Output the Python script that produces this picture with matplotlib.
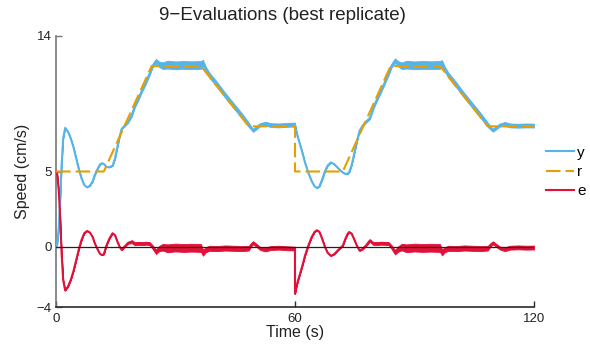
import matplotlib
matplotlib.use("Agg")
import matplotlib.pyplot as plt
import numpy as np
from matplotlib.lines import Line2D

plt.rcParams["font.family"] = ["Liberation Sans", "DejaVu Sans"]

# Reference speed profile (corner points, cm/s)
r_time = [0, 12, 24, 36.4, 48.4, 60, 60, 72, 84, 96.4, 108.4, 120]
r_speed = [5, 5, 12, 12, 8, 8, 5, 5, 12, 12, 8, 8]

# Sample times (s) for measured speed and tracking error
t = [0.0, 0.3, 0.7, 1.0, 1.4, 1.8, 2.3, 3.0, 3.7, 4.4, 5.05, 5.7, 6.4, 7.1, 7.8,
     8.5, 9.2, 9.7, 10.5, 11.0, 11.5, 12.0, 12.7, 13.4, 14.2, 14.8, 15.4, 16.0,
     16.5, 17.3, 18.1, 19.0, 19.8, 20.7, 21.7, 22.7, 23.5, 24.2, 25.1, 25.9,
     26.8, 28.0, 30.0, 32.0, 34.0, 36.4, 36.9, 37.6, 38.5, 40.5, 42.5, 44.5,
     46.5, 48.4, 49.0, 49.5, 50.3, 51.2, 52.5, 54.0, 56.0, 58.0, 60.0, 60.0,
     60.4, 60.8, 61.7, 62.5, 63.4, 64.2, 64.9, 65.5, 66.1, 66.8, 67.5, 68.2,
     69.0, 69.8, 70.9, 72.0, 72.6, 73.2, 73.6, 74.2, 74.8, 75.5, 76.2, 77.0,
     77.8, 78.8, 79.6, 80.5, 81.5, 82.5, 83.5, 84.2, 85.1, 85.9, 86.8, 88.0,
     90.0, 92.0, 94.0, 96.4, 96.9, 97.6, 98.5, 100.5, 102.5, 104.5, 106.5,
     108.4, 109.2, 109.7, 110.5, 111.4, 112.7, 114.0, 116.0, 118.0, 120.0]

# Measured speed y (cm/s)
y_speed = [0.0, 0.2, 1.3, 2.8, 5.4, 7.2, 7.9, 7.65, 7.2, 6.6, 5.9, 5.2, 4.55, 4.1, 3.95,
           4.05, 4.35, 4.75, 5.2, 5.45, 5.55, 5.5, 5.3, 5.28, 5.38, 5.85, 6.63, 7.35,
           7.84, 8.05, 8.3, 8.74, 9.35, 9.85, 10.45, 11.0, 11.5, 12.0, 12.33, 12.12,
           12.03, 12.1, 12.05, 12.08, 12.06, 12.08, 12.22, 11.8, 11.4, 10.75, 10.05, 9.4,
           8.75, 8.1, 7.88, 7.73, 7.9, 8.1, 8.18, 8.08, 8.06, 8.1, 8.12, 8.12,
           7.6, 7.2, 6.4, 5.6, 4.88, 4.35, 4.02, 3.9, 4.0, 4.45, 5.0, 5.4,
           5.6, 5.5, 5.2, 4.93, 4.85, 4.85, 4.95, 5.4, 6.1, 6.95, 7.7, 8.05,
           8.3, 8.55, 9.2, 9.75, 10.3, 10.9, 11.5, 12.0, 12.36, 12.15, 12.02, 12.1,
           12.05, 12.08, 12.06, 12.08, 12.2, 11.8, 11.4, 10.75, 10.05, 9.4, 8.75,
           8.1, 7.85, 7.74, 7.9, 8.08, 8.16, 8.06, 8.04, 8.06, 8.05]

# Tracking error e (cm/s)
e_speed = [5.0, 4.8, 3.7, 2.2, -0.4, -2.2, -2.9, -2.65, -2.2, -1.6, -0.9, -0.2, 0.45, 0.9, 1.05,
           0.95, 0.65, 0.25, -0.2, -0.45, -0.55, -0.5, 0.11, 0.54, 0.9, 0.78, 0.35, -0.02,
           -0.21, 0.04, 0.26, 0.34, 0.2, 0.23, 0.21, 0.24, 0.21, 0.0, -0.33, -0.12,
           -0.03, -0.1, -0.05, -0.08, -0.06, -0.08, -0.39, -0.2, -0.1, -0.12, -0.08, -0.1,
           -0.12, -0.1, 0.12, 0.27, 0.1, -0.1, -0.18, -0.08, -0.06, -0.1, -0.12, -3.12,
           -2.6, -2.2, -1.4, -0.6, 0.12, 0.65, 0.98, 1.1, 1.0, 0.55, 0.0, -0.4,
           -0.6, -0.5, -0.2, 0.07, 0.5, 0.85, 0.98, 0.88, 0.53, 0.09, -0.25, -0.13,
           0.08, 0.42, 0.23, 0.21, 0.24, 0.23, 0.21, 0.0, -0.36, -0.15, -0.02, -0.1,
           -0.05, -0.08, -0.06, -0.08, -0.37, -0.2, -0.1, -0.12, -0.08, -0.1, -0.12,
           -0.1, 0.15, 0.26, 0.1, -0.08, -0.16, -0.06, -0.04, -0.06, -0.05]

# Half-width of the high-frequency ripple band (cm/s)
ripple = [0, 0, 0, 0, 0, 0, 0, 0, 0, 0, 0, 0, 0, 0, 0,
          0, 0, 0, 0, 0, 0, 0, 0, 0, 0, 0, 0, 0,
          0, 0.03, 0.06, 0.1, 0.1, 0.1, 0.1, 0.1, 0.1, 0.12, 0.15, 0.18,
          0.22, 0.26, 0.26, 0.26, 0.26, 0.26, 0.2, 0.17, 0.17, 0.17, 0.17, 0.17,
          0.17, 0.15, 0.1, 0.1, 0.1, 0.1, 0.13, 0.13, 0.13, 0.13, 0.13, 0.0,
          0, 0, 0, 0, 0, 0, 0, 0, 0, 0, 0, 0,
          0, 0, 0, 0, 0, 0, 0, 0, 0, 0, 0.03, 0.05,
          0.06, 0.08, 0.1, 0.1, 0.1, 0.1, 0.1, 0.12, 0.15, 0.18, 0.22, 0.26,
          0.26, 0.26, 0.26, 0.26, 0.2, 0.17, 0.17, 0.17, 0.17, 0.17, 0.17,
          0.15, 0.1, 0.1, 0.1, 0.1, 0.13, 0.13, 0.13, 0.13, 0.13]

x_ticks = [0, 60, 120]
y_ticks = [-4, 0, 5, 14]

c_y = "#56B4E9"
c_r = "#E69F00"
c_e = "#E3103A"

t = np.array(t)
ys = np.array(y_speed)
es = np.array(e_speed)
rp = np.array(ripple)

fig = plt.figure(figsize=(5.9, 3.45), dpi=100)
ax = fig.add_axes([56 / 590, 1 - 307 / 345, (534 - 56) / 590, (307 - 36) / 345])

ax.fill_between(t, ys - rp, ys + rp, color=c_y, lw=0.6, edgecolor=c_y, zorder=2)
ax.plot(t, ys, color=c_y, lw=1.5, zorder=3, solid_joinstyle="round")
ax.plot(r_time, r_speed, color=c_r, lw=1.5, dashes=(7, 2.4), zorder=4)
ax.fill_between(t, es - rp, es + rp, color=c_e, lw=0.6, edgecolor=c_e, zorder=2)
ax.plot(t, es, color=c_e, lw=1.5, zorder=3, solid_joinstyle="round")
ax.axhline(0, color="#222222", lw=0.9, zorder=5)

ax.set_xlim(0, 120)
ax.set_ylim(-4, 14)
ax.set_xticks(x_ticks)
ax.set_yticks(y_ticks)
ax.set_xticklabels([str(v) for v in x_ticks])
ax.set_yticklabels([str(v).replace("-", "\u2212") for v in y_ticks])

for side in ("top", "right"):
    ax.spines[side].set_visible(False)
ax.spines["left"].set_color("#777777")
ax.spines["bottom"].set_color("#2a2a2a")
ax.spines["left"].set_linewidth(1.2)
ax.spines["bottom"].set_linewidth(1.2)
ax.tick_params(axis="y", direction="in", length=4, width=1, color="#777777",
               labelsize=9.5, pad=3, labelcolor="#222222")
ax.tick_params(axis="x", direction="in", length=4, width=1, color="#2a2a2a",
               labelsize=9.5, pad=4, labelcolor="#222222")

ax.set_xlabel("Time (s)", fontsize=11.5, labelpad=0, color="#222222")
ax.set_ylabel("Speed (cm/s)", fontsize=11.5, labelpad=5, color="#222222")
fig.text(282 / 590, 1 - 15 / 345, "9\u2212Evaluations (best replicate)",
         ha="center", va="center", fontsize=13.5, color="#222222")

handles = [Line2D([], [], color=c_y, lw=1.5),
           Line2D([], [], color=c_r, lw=1.5, dashes=(7, 2.4)),
           Line2D([], [], color=c_e, lw=1.5)]
fig.legend(handles, ["y", "r", "e"], loc="center left",
           bbox_to_anchor=(546 / 590, 1 - 172 / 345), frameon=False,
           fontsize=11, handlelength=1.8, handletextpad=0.25,
           labelspacing=0.35, borderpad=0, borderaxespad=0)

fig.savefig("out.png", dpi=100)
